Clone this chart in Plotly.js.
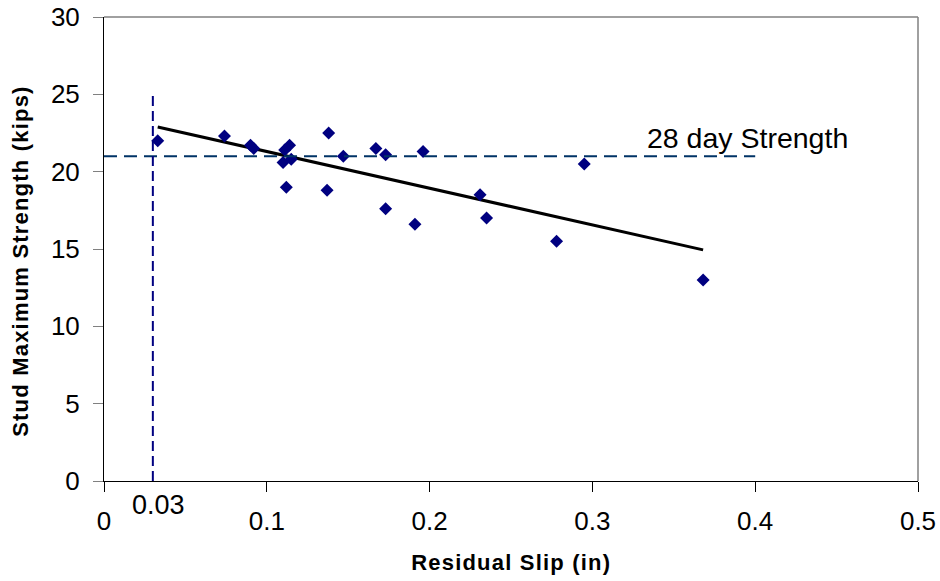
<!DOCTYPE html>
<html>
<head>
<meta charset="utf-8">
<script src="https://cdn.plot.ly/plotly-3.0.1.min.js"></script>
<style>
html,body{margin:0;padding:0;background:#fff;}
#chart{width:940px;height:581px;}
g.annotation[data-index="2"] text, g.annotation[data-index="3"] text{letter-spacing:1.2px;}
</style>
</head>
<body>
<div id="chart"></div>
<script>
// Residual slip (in) and stud maximum strength (kips)
var residualSlip = [0.033, 0.074, 0.090, 0.092, 0.114, 0.111, 0.110, 0.115, 0.112, 0.138, 0.137, 0.147, 0.167, 0.173, 0.173, 0.191, 0.196, 0.231, 0.235, 0.278, 0.295, 0.368];
var studStrength = [22.0, 22.3, 21.7, 21.5, 21.7, 21.4, 20.6, 20.8, 19.0, 22.5, 18.8, 21.0, 21.5, 21.1, 17.6, 16.6, 21.3, 18.5, 17.0, 15.5, 20.5, 13.0];
var xTickVals = [0, 0.1, 0.2, 0.3, 0.4, 0.5];
var xTickText = ['0', '0.1', '0.2', '0.3', '0.4', '0.5'];
var yTickVals = [0, 5, 10, 15, 20, 25, 30];
var strength28Day = 21;
var strength28End = 0.4;
var slipLimit = 0.03;
var slipLimitTop = 25;

// Linear trendline (least squares) across the data range
var n = residualSlip.length, sx = 0, sy = 0, sxx = 0, sxy = 0;
for (var i = 0; i < n; i++) { sx += residualSlip[i]; sy += studStrength[i]; sxx += residualSlip[i]*residualSlip[i]; sxy += residualSlip[i]*studStrength[i]; }
var slope = (n*sxy - sx*sy) / (n*sxx - sx*sx);
var intercept = (sy - slope*sx) / n;
var xMin = Math.min.apply(null, residualSlip), xMax = Math.max.apply(null, residualSlip);
var trendX = [xMin, xMax];
var trendY = trendX.map(function(v){ return intercept + slope*v; });

var font = 'Liberation Sans, Arial, sans-serif';
var data = [
  {x: trendX, y: trendY, type: 'scatter', mode: 'lines', line: {color: '#000000', width: 3}, hoverinfo: 'skip'},
  {x: residualSlip, y: studStrength, type: 'scatter', mode: 'markers',
   marker: {symbol: 'diamond', size: 10, color: '#000080', line: {width: 0}}}
];
var layout = {
  width: 940, height: 581,
  margin: {l: 104, r: 22, t: 17, b: 100},
  paper_bgcolor: '#ffffff', plot_bgcolor: '#ffffff',
  showlegend: false,
  font: {family: font, color: '#000000'},
  xaxis: {
    range: [0, 0.5], tickvals: xTickVals, ticktext: xTickText,
    showgrid: false, zeroline: false, showline: true, linecolor: '#000000', linewidth: 1,
    ticks: 'outside', ticklen: 10, tickcolor: '#000000', tickwidth: 1, ticklabelstandoff: 7,
    tickfont: {size: 26, family: font, color: '#000000'}
  },
  yaxis: {
    range: [0, 30], tickvals: yTickVals,
    showgrid: false, zeroline: false, showline: true, linecolor: '#000000', linewidth: 1,
    ticks: 'outside', ticklen: 10, tickcolor: '#808080', tickwidth: 1, ticklabelstandoff: 8,
    tickfont: {size: 26, family: font, color: '#000000'}
  },
  shapes: [
    {type: 'line', xref: 'x', yref: 'y', x0: 0, x1: strength28End, y0: strength28Day, y1: strength28Day,
     line: {color: '#003366', width: 2, dash: '13px,7px'}},
    {type: 'line', xref: 'x', yref: 'y', x0: slipLimit, x1: slipLimit, y0: 0, y1: slipLimitTop,
     line: {color: '#000080', width: 2, dash: '10px,5px'}},
    {type: 'line', xref: 'paper', yref: 'paper', x0: 0, x1: 1, y0: 1, y1: 1, line: {color: '#808080', width: 1.5}},
    {type: 'line', xref: 'paper', yref: 'paper', x0: 1, x1: 1, y0: 0, y1: 1, line: {color: '#808080', width: 1.5}}
  ],
  annotations: [
    {x: 0.332, y: strength28Day, xref: 'x', yref: 'y', xanchor: 'left', yanchor: 'middle', yshift: 18,
     text: '28 day Strength', showarrow: false, font: {size: 28.5, family: font, color: '#000000'}},
    {x: slipLimit, y: 0, xref: 'x', yref: 'y', xanchor: 'center', yanchor: 'top', xshift: 6, yshift: -7,
     text: String(slipLimit), showarrow: false, font: {size: 27, family: font, color: '#000000'}},
    {x: 0.5, y: -0.1767, xref: 'paper', yref: 'paper', xanchor: 'center', yanchor: 'middle',
     text: '<b>Residual Slip (in)</b>', showarrow: false, font: {size: 22, family: font, color: '#000000'}},
    {x: -0.1032, y: 0.5, xref: 'paper', yref: 'paper', xanchor: 'center', yanchor: 'middle', yshift: -12, textangle: -90,
     text: '<b>Stud Maximum Strength (kips)</b>', showarrow: false, font: {size: 22, family: font, color: '#000000'}}
  ]
};
Plotly.newPlot('chart', data, layout, {displayModeBar: false, staticPlot: true});
</script>
</body>
</html>
